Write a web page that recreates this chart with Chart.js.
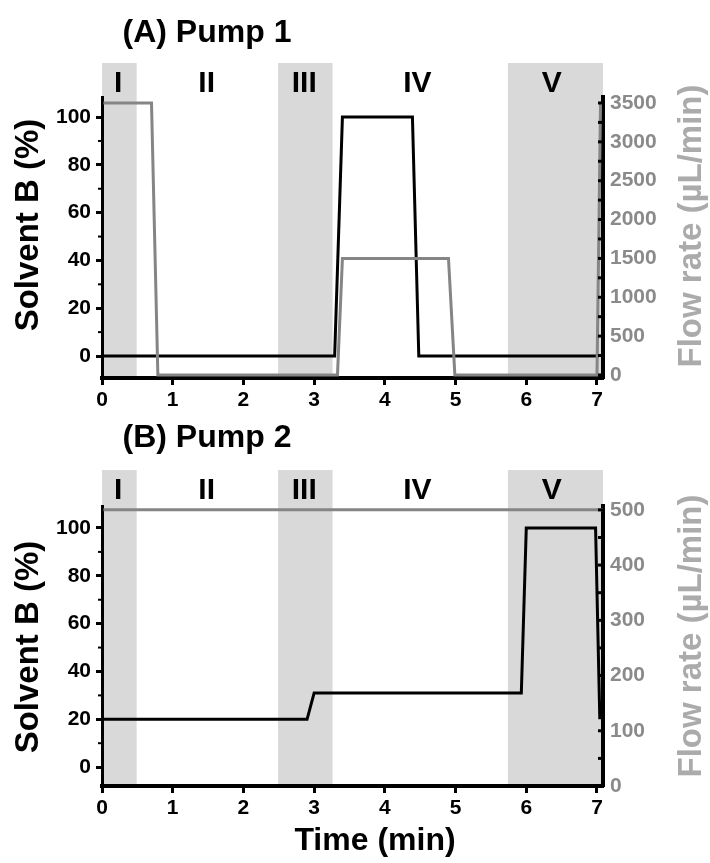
<!DOCTYPE html>
<html>
<head>
<meta charset="utf-8">
<script src="https://cdn.jsdelivr.net/npm/chart.js@4.4.1/dist/chart.umd.min.js"></script>
<style>
  body { margin: 0; background: #fff; }
  #wrap { position: relative; width: 710px; height: 863px; }
  canvas { position: absolute; left: 0; }
</style>
</head>
<body>
<div id="wrap">
  <canvas id="pump1" width="710" height="415" style="top:0px"></canvas>
  <canvas id="pump2" width="710" height="448" style="top:415px"></canvas>
</div>
<script>
// ticks
const timeTicks = [0, 1, 2, 3, 4, 5, 6, 7];
const solventTicks = [0, 20, 40, 60, 80, 100];
const flowTicks1 = [0, 500, 1000, 1500, 2000, 2500, 3000, 3500];
const flowTicks2 = [0, 100, 200, 300, 400, 500];

// method segments (shaded bands + labels)
const regionStart = [0, 2.49, 5.74];
const regionEnd = [0.49, 3.26, 7.085];
const regionLabels = ['I', 'II', 'III', 'IV', 'V'];
const regionLabelAt = [0.23, 1.48, 2.86, 4.46, 6.36];

// pump 1
const p1SolventTime = [0, 3.29, 3.4, 4.39, 4.48, 7.02];
const p1Solvent = [0, 0, 100, 100, 0, 0];
const p1FlowTime = [0.02, 0.7, 0.79, 3.33, 3.4, 4.9, 4.99, 7.0, 7.05];
const p1Flow = [3500, 3500, 0, 0, 1500, 1500, 0, 0, 3500];

// pump 2
const p2SolventTime = [0, 2.9, 3.0, 5.93, 6.0, 6.98, 7.04];
const p2Solvent = [20, 20, 31, 31, 100, 100, 20];
const p2FlowTime = [0.02, 7.085];
const p2Flow = [500, 500];

const FONT = '"Liberation Sans", Arial, sans-serif';

function toPoints(xs, ys) {
  return xs.map((x, i) => ({ x: x, y: ys[i] }));
}

function seg(ctx, x0, y0, x1, y1) {
  ctx.beginPath();
  ctx.moveTo(x0, y0);
  ctx.lineTo(x1, y1);
  ctx.stroke();
}

function vText(ctx, text, x, y) {
  ctx.save();
  ctx.translate(x, y);
  ctx.rotate(-Math.PI / 2);
  ctx.fillText(text, 0, 0);
  ctx.restore();
}

const decor = {
  id: 'decor',
  beforeDraw(chart, args, o) {
    const { ctx, chartArea: a } = chart;
    const x = chart.scales.x;
    ctx.save();
    ctx.fillStyle = '#d9d9d9';
    regionStart.forEach((s, i) => {
      const x0 = x.getPixelForValue(s);
      const x1 = x.getPixelForValue(regionEnd[i]);
      ctx.fillRect(x0, a.top - o.band, x1 - x0, a.bottom - a.top + o.band);
    });
    ctx.restore();
  },
  afterDraw(chart, args, o) {
    const { ctx, chartArea: a } = chart;
    const { x, yL, yR } = chart.scales;
    ctx.save();
    ctx.fillStyle = '#000';
    ctx.textAlign = 'center';
    ctx.textBaseline = 'alphabetic';

    // band labels
    ctx.font = 'bold 30px ' + FONT;
    regionLabels.forEach((t, i) => {
      ctx.fillText(t, x.getPixelForValue(regionLabelAt[i]), a.top - o.band + 28.5);
    });

    // panel title
    ctx.font = 'bold 32px ' + FONT;
    ctx.fillText(o.title, 207, o.titleBase);

    // minor ticks on the left axis
    ctx.strokeStyle = '#000';
    ctx.lineWidth = 2;
    for (let v = 10; v < 100; v += 20) {
      const py = yL.getPixelForValue(v);
      seg(ctx, a.left - 4, py, a.left, py);
    }
    // small inward ticks on the right axis
    ctx.lineWidth = 3;
    for (let v = 0; v <= yR.max; v += o.rightStep) {
      const py = yR.getPixelForValue(v);
      seg(ctx, a.right - 5, py, a.right, py);
    }

    // axis titles
    ctx.font = 'bold 33px ' + FONT;
    ctx.fillStyle = '#000';
    vText(ctx, 'Solvent B (%)', 38, o.leftTitleY);
    ctx.fillStyle = '#ababab';
    vText(ctx, 'Flow rate (\u00b5L/min)', 701, o.rightTitleY);
    if (o.xTitle) {
      ctx.fillStyle = '#000';
      ctx.font = 'bold 32px ' + FONT;
      ctx.fillText(o.xTitle, 375, o.xTitleBase);
    }
    ctx.restore();
  }
};

function pumpChart(id, d, p) {
  return new Chart(document.getElementById(id), {
    type: 'line',
    data: {
      datasets: [
        {
          label: 'Solvent B (%)',
          data: toPoints(d.solventTime, d.solvent),
          yAxisID: 'yL',
          borderColor: '#000',
          borderWidth: 3,
          pointRadius: 0,
          order: 1
        },
        {
          label: 'Flow rate',
          data: toPoints(d.flowTime, d.flow),
          yAxisID: 'yR',
          borderColor: '#858585',
          borderWidth: 3,
          pointRadius: 0,
          order: 0
        }
      ]
    },
    options: {
      responsive: false,
      animation: false,
      layout: { padding: { top: p.top, left: 0, right: 0, bottom: 0 } },
      plugins: {
        legend: { display: false },
        tooltip: { enabled: false },
        decor: p
      },
      scales: {
        x: {
          type: 'linear',
          min: 0,
          max: 7.085,
          afterBuildTicks: s => { s.ticks = timeTicks.map(v => ({ value: v })); },
          afterFit: s => { s.height = p.xHeight; },
          ticks: { autoSkip: false, maxRotation: 0, color: '#000', padding: 3, font: { family: FONT, size: 21, weight: 'bold' }, callback: v => String(v) },
          grid: { drawOnChartArea: false, tickLength: 7, tickWidth: 3, tickColor: '#000' },
          border: { display: true, color: '#000', width: 4 }
        },
        yL: {
          position: 'left',
          min: p.leftMin,
          max: p.leftMax,
          afterBuildTicks: s => { s.ticks = solventTicks.map(v => ({ value: v })); },
          afterFit: s => { s.width = 102; },
          ticks: { autoSkip: false, color: '#000', padding: 5, font: { family: FONT, size: 21, weight: 'bold' }, callback: v => String(v) },
          grid: { drawOnChartArea: false, tickLength: 6, tickWidth: 3, tickColor: '#000' },
          border: { display: true, color: '#000', width: 3 }
        },
        yR: {
          position: 'right',
          min: p.rightMin,
          max: p.rightMax,
          afterBuildTicks: s => { s.ticks = d.flowTicks.map(v => ({ value: v })); },
          afterFit: s => { s.width = 107; },
          ticks: { autoSkip: false, color: '#8a8a8a', padding: 7, font: { family: FONT, size: 21, weight: 'bold' }, callback: v => String(v) },
          grid: { drawOnChartArea: false, drawTicks: false, tickLength: 0 },
          border: { display: true, color: '#000', width: 4 }
        }
      }
    },
    plugins: [decor]
  });
}

pumpChart('pump1',
  { solventTime: p1SolventTime, solvent: p1Solvent, flowTime: p1FlowTime, flow: p1Flow, flowTicks: flowTicks1 },
  { top: 97, xHeight: 37, leftMin: -9.2, leftMax: 108.4, rightMin: -39, rightMax: 3577,
    band: 34, title: '(A) Pump 1', titleBase: 42, rightStep: 250,
    leftTitleY: 225, rightTitleY: 226, xTitle: '' });

pumpChart('pump2',
  { solventTime: p2SolventTime, solvent: p2Solvent, flowTime: p2FlowTime, flow: p2Flow, flowTicks: flowTicks2 },
  { top: 91, xHeight: 77, leftMin: -7.9, leftMax: 109.2, rightMin: 0, rightMax: 507,
    band: 36, title: '(B) Pump 2', titleBase: 32, rightStep: 50,
    leftTitleY: 232, rightTitleY: 221, xTitle: 'Time (min)', xTitleBase: 435 });
</script>
</body>
</html>
